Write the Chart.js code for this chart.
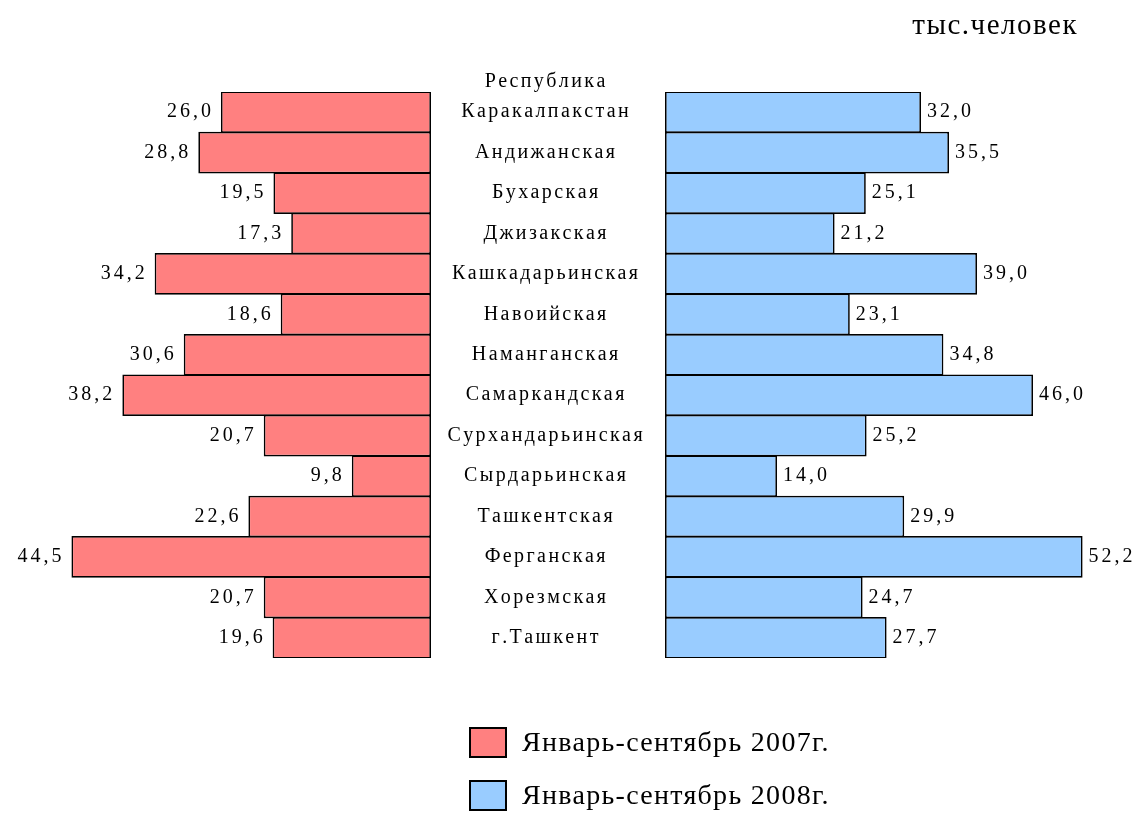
<!DOCTYPE html>
<html>
<head>
<meta charset="utf-8">
<script src="https://cdn.jsdelivr.net/npm/chart.js@4.4.1/dist/chart.umd.min.js"></script>
<style>
  body { margin: 0; background: #fff; }
  #page { position: relative; width: 1136px; height: 814px; font-family: "Liberation Serif", "Times New Roman", serif; color: #000; }
  .layer { position: absolute; left: 0; top: 0; width: 1136px; height: 814px; }
  #unit { position: absolute; right: 58px; top: 8px; font-size: 29px; letter-spacing: 1.5px; }
  #legend { position: absolute; left: 469px; top: 727px; }
  .item { display: flex; align-items: center; height: 30px; margin-bottom: 23px; font-size: 28px; letter-spacing: 1.3px; }
  .box { width: 34px; height: 27px; border: 2px solid #000; margin-right: 15px; }
</style>
</head>
<body>
<div id="page">
  <div class="layer"><canvas id="left"></canvas></div>
  <div class="layer"><canvas id="right"></canvas></div>
  <div id="unit"></div>
  <div id="legend"></div>
</div>
<script>
// Data
const regions = [
  ['Республика', 'Каракалпакстан'], 'Андижанская', 'Бухарская', 'Джизакская',
  'Кашкадарьинская', 'Навоийская', 'Наманганская', 'Самаркандская',
  'Сурхандарьинская', 'Сырдарьинская', 'Ташкентская', 'Ферганская',
  'Хорезмская', 'г.Ташкент'
];
const values2007 = [26.0, 28.8, 19.5, 17.3, 34.2, 18.6, 30.6, 38.2, 20.7, 9.8, 22.6, 44.5, 20.7, 19.6];
const values2008 = [32.0, 35.5, 25.1, 21.2, 39.0, 23.1, 34.8, 46.0, 25.2, 14.0, 29.9, 52.2, 24.7, 27.7];
const seriesNames = ['Январь-сентябрь 2007г.', 'Январь-сентябрь 2008г.'];
const unitLabel = 'тыс.человек';

const colors = ['#FF8080', '#99CCFF'];

Chart.defaults.font.family = "'Liberation Serif', serif";
Chart.defaults.color = '#000';

// ctx.letterSpacing drops the serif face here, so space the glyphs by hand
function drawSpaced(ctx, text, x, y, align, sp) {
    const chars = Array.from(text);
    const widths = chars.map(c => ctx.measureText(c).width);
    const total = widths.reduce((a, b) => a + b, 0) + sp * (chars.length - 1);
    let cx = align === 'right' ? x - total : align === 'center' ? x - total / 2 : x;
    ctx.textAlign = 'left';
    chars.forEach((c, i) => {
        ctx.fillText(c, cx, y);
        cx += widths[i] + sp;
    });
}

// value labels at bar ends
const valueLabels = {
    id: 'valueLabels',
    afterDatasetsDraw(chart, args, opts) {
        const ctx = chart.ctx;
        const meta = chart.getDatasetMeta(0);
        const data = chart.data.datasets[0].data;
        ctx.save();
        ctx.font = Chart.helpers.toFont({ size: 20 }).string;
        ctx.fillStyle = '#000';
        ctx.textBaseline = 'middle';
        meta.data.forEach((bar, i) => {
            const txt = data[i].toFixed(1).replace('.', ',');
            if (opts.side === 'left') {
                drawSpaced(ctx, txt, bar.x - 10, bar.y, 'right', 3);
            } else {
                drawSpaced(ctx, txt, bar.x + 6, bar.y, 'left', 3);
            }
        });
        ctx.restore();
    }
};

// region names in the gap between the two charts
const regionLabels = {
    id: 'regionLabels',
    afterDraw(chart, args, opts) {
        if (!opts.show) return;
        const ctx = chart.ctx;
        const y = chart.scales.y;
        ctx.save();
        ctx.font = Chart.helpers.toFont({ size: 20 }).string;
        ctx.fillStyle = '#000';
        ctx.textBaseline = 'middle';
        chart.data.labels.forEach((lbl, i) => {
            const lines = Array.isArray(lbl) ? lbl : [lbl];
            const py = y.getPixelForValue(i);
            lines.forEach((line, k) => {
                drawSpaced(ctx, line, opts.x, py - (lines.length - 1 - k) * 30, 'center', 2.4);
            });
        });
        ctx.restore();
    }
};

function makeChart(id, values, color, side) {
    const isLeft = side === 'left';
    return new Chart(document.getElementById(id), {
        type: 'bar',
        data: {
            labels: regions,
            datasets: [{
                label: isLeft ? seriesNames[0] : seriesNames[1],
                data: values,
                backgroundColor: color,
                borderColor: '#000',
                borderWidth: 1.7,
                borderSkipped: false,
                barPercentage: 1.03,
                categoryPercentage: 1
            }]
        },
        options: {
            indexAxis: 'y',
            responsive: true,
            maintainAspectRatio: false,
            animation: false,
            layout: {
                padding: isLeft
                    ? { left: 27, right: 705, top: 92, bottom: 156 }
                    : { left: 665, right: 31, top: 92, bottom: 156 }
            },
            scales: {
                x: { display: false, min: 0, max: isLeft ? 50 : 55, reverse: isLeft },
                y: { display: false }
            },
            plugins: {
                legend: { display: false },
                tooltip: { enabled: false },
                valueLabels: { side: side },
                regionLabels: { show: !isLeft, x: 545 }
            }
        },
        plugins: [valueLabels, regionLabels]
    });
}

const charts = [
    makeChart('left', values2007, colors[0], 'left'),
    makeChart('right', values2008, colors[1], 'right')
];

// unit + legend
document.getElementById('unit').textContent = unitLabel;
const legend = document.getElementById('legend');
seriesNames.forEach((name, i) => {
    const item = document.createElement('div');
    item.className = 'item';
    const box = document.createElement('div');
    box.className = 'box';
    box.style.background = colors[i];
    const txt = document.createElement('span');
    txt.textContent = name;
    item.appendChild(box);
    item.appendChild(txt);
    legend.appendChild(item);
});
</script>
</body>
</html>
